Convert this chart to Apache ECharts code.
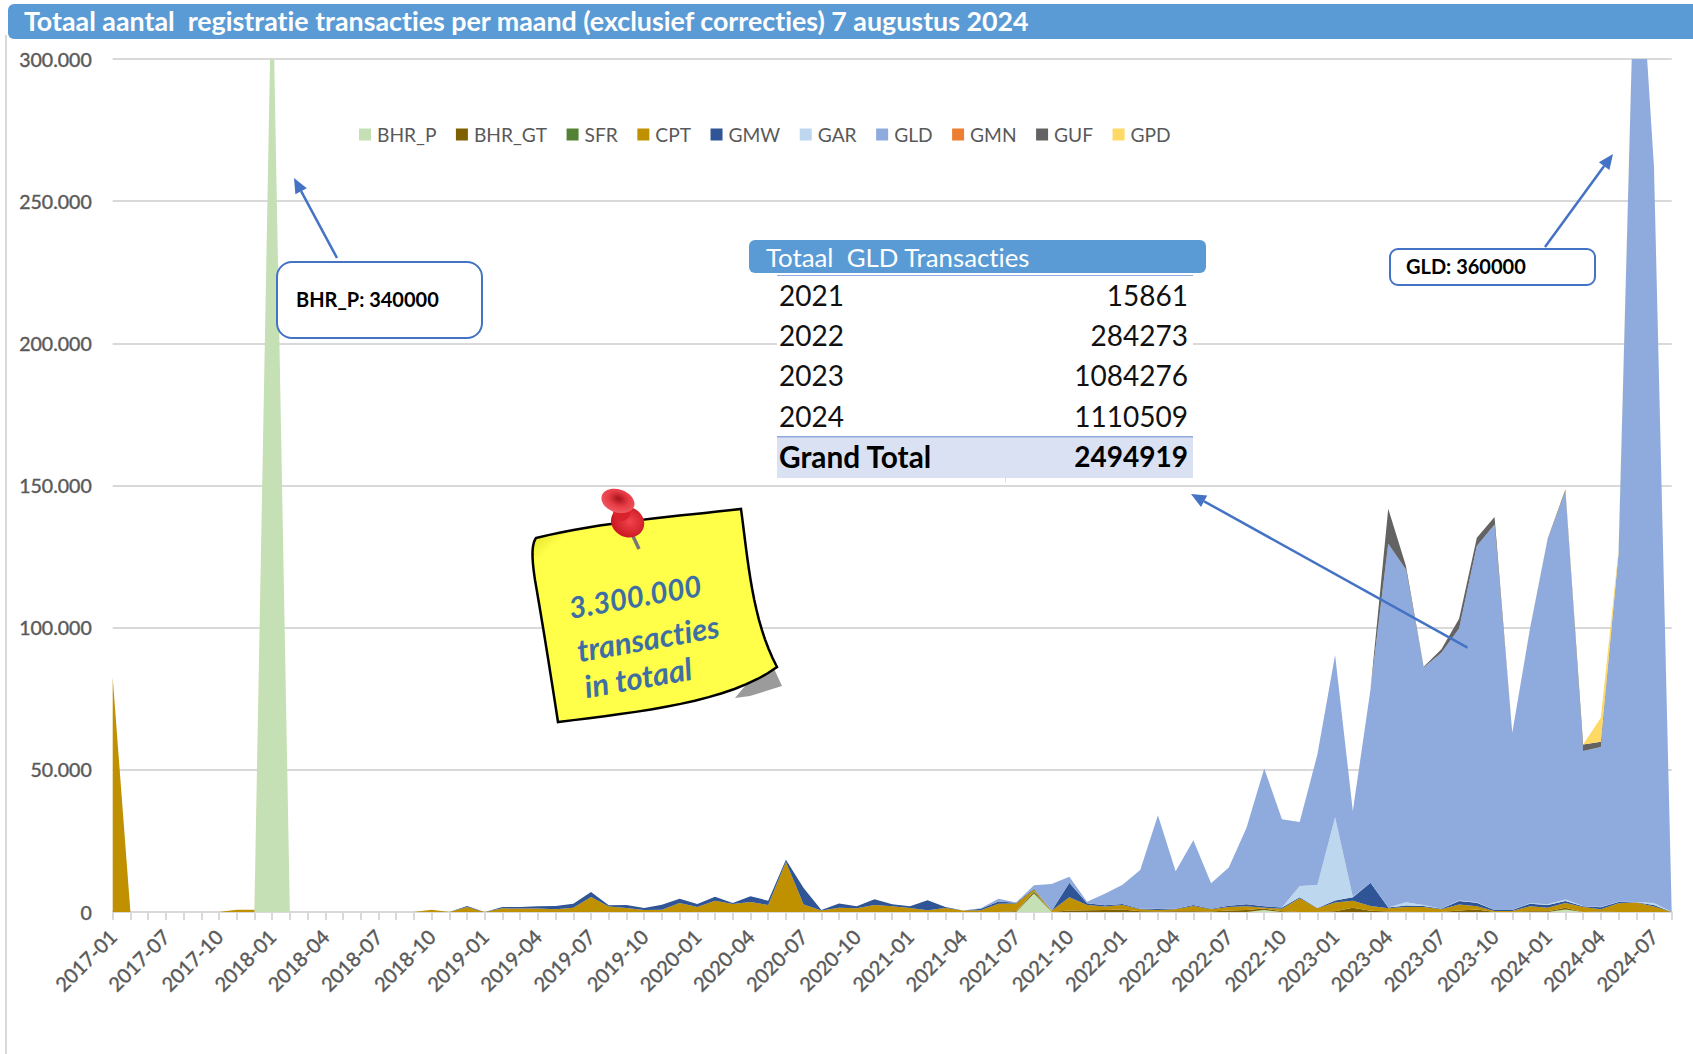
<!DOCTYPE html>
<html>
<head>
<meta charset="utf-8">
<title>Totaal aantal registratie transacties per maand</title>
<style>
  html, body { margin: 0; padding: 0; background: #fff; }
  #chart { width: 1693px; height: 1054px; }
  #chart text { font-variant-ligatures: none !important; }
</style>
<script src="https://cdn.jsdelivr.net/npm/echarts@6/dist/echarts.min.js"></script>
</head>
<body>
<div id="chart"></div>
<script>
const months = [
  '2017-01','2017-03','2017-05','2017-07','2017-08','2017-09','2017-10','2017-11','2017-12','2018-01',
  '2018-02','2018-03','2018-04','2018-05','2018-06','2018-07','2018-08','2018-09','2018-10','2018-11',
  '2018-12','2019-01','2019-02','2019-03','2019-04','2019-05','2019-06','2019-07','2019-08','2019-09',
  '2019-10','2019-11','2019-12','2020-01','2020-02','2020-03','2020-04','2020-05','2020-06','2020-07',
  '2020-08','2020-09','2020-10','2020-11','2020-12','2021-01','2021-02','2021-03','2021-04','2021-05',
  '2021-06','2021-07','2021-08','2021-09','2021-10','2021-11','2021-12','2022-01','2022-02','2022-03',
  '2022-04','2022-05','2022-06','2022-07','2022-08','2022-09','2022-10','2022-11','2022-12','2023-01',
  '2023-02','2023-03','2023-04','2023-05','2023-06','2023-07','2023-08','2023-09','2023-10','2023-11',
  '2023-12','2024-01','2024-02','2024-03','2024-04','2024-05','2024-06','2024-07','2024-08'
]

// waarden per reeks (gestapeld)
const bhrP = [
  0,0,0,0,0,0,0,0,0,340000,
  0,0,0,0,0,0,0,0,0,0,
  0,0,0,0,0,0,0,0,0,0,
  0,0,0,0,0,0,0,0,0,0,
  0,0,0,0,0,0,0,0,0,0,
  0,0,6500,0,0,0,0,0,0,0,
  0,0,0,0,0,700,0,0,0,0,
  0,0,0,0,0,0,0,0,0,0,
  0,0,900,0,0,0,0,0,0
]
const bhrGt = [
  0,0,0,0,0,0,0,0,0,0,
  0,0,0,0,0,0,0,0,0,0,
  0,0,0,0,0,0,0,0,0,0,
  0,0,0,0,0,0,0,0,0,0,
  0,0,0,0,0,0,0,0,0,0,
  0,300,500,0,500,600,700,900,300,200,
  300,300,200,500,700,500,300,0,0,300,
  1500,400,200,100,0,0,500,900,0,0,
  300,300,600,0,200,0,0,0,0
]
const sfr = [
  0,0,0,0,0,0,0,0,0,0,
  0,0,0,0,0,0,0,0,0,0,
  0,0,0,0,0,0,0,0,0,0,
  0,0,0,0,0,0,0,0,0,0,
  0,0,0,0,0,0,0,0,0,0,
  0,0,500,0,0,0,0,0,0,0,
  0,0,0,0,0,0,0,0,0,0,
  0,0,0,0,0,0,0,0,0,0,
  0,0,0,0,0,0,0,0,0
]
const cpt = [
  82500,0,0,0,0,0,0,800,800,0,
  0,0,0,0,0,0,0,0,800,0,
  1750,0,1300,1200,1200,950,1500,5300,1900,1400,
  700,800,3200,1800,4000,2800,3500,2500,17600,2600,
  500,1500,1300,2500,2000,1400,600,1400,500,600,
  2900,2700,500,450,4650,1850,1200,1550,650,500,
  650,1800,750,1250,1300,300,850,4800,1300,3000,
  2500,1700,1100,1650,1750,950,2100,1100,350,350,
  1700,1200,1650,1750,750,3050,3300,1900,0
]
const gmw = [
  0,0,0,0,0,0,0,0,0,0,
  0,0,0,0,0,0,0,0,0,0,
  350,0,470,560,800,1150,1400,1750,450,1050,
  700,1750,1500,1000,1400,350,2000,1500,800,5850,
  200,1500,700,2000,700,600,3500,350,0,580,
  820,230,300,0,5150,590,440,340,230,470,
  230,360,230,440,700,500,470,350,100,720,
  1150,8200,300,580,340,230,1290,1280,350,350,
  930,960,710,240,700,470,120,580,0
]
const gar = [
  0,0,0,0,0,0,0,0,0,0,
  0,0,0,0,0,0,0,0,0,0,
  0,0,0,0,0,0,0,0,0,0,
  0,0,0,0,0,0,0,0,0,0,
  0,0,0,0,0,0,0,0,0,0,
  0,0,0,0,0,0,0,0,0,0,
  0,0,0,0,0,0,0,4000,8100,29300,
  250,0,0,1060,360,0,130,120,0,0,
  120,240,580,100,120,110,120,700,0
]
const gld = [
  0,0,0,0,0,0,0,0,0,0,
  0,0,0,0,0,0,0,0,0,0,
  0,0,0,0,0,0,0,0,0,0,
  0,0,0,0,0,0,0,0,0,0,
  0,0,0,0,0,0,0,0,0,100,
  940,120,1100,9380,2100,550,4110,6800,13600,32830,
  13130,22740,8910,13500,26950,48500,30960,22500,45900,57100,
  30100,68000,127900,117100,83540,90030,95700,125300,135600,62300,
  96350,128300,143550,54500,56240,122370,356480,258840,0
]
const gmn = [
  0,0,0,0,0,0,0,0,0,0,
  0,0,0,0,0,0,0,0,0,0,
  0,0,0,0,0,0,0,0,0,0,
  0,0,0,0,0,0,0,0,0,0,
  0,0,0,0,0,0,0,0,0,0,
  0,0,0,0,0,0,0,0,0,0,
  0,0,0,0,0,0,0,0,0,0,
  0,0,0,0,0,0,0,0,0,0,
  0,0,0,0,0,0,0,0,0
]
const guf = [
  0,0,0,0,0,0,0,0,0,0,
  0,0,0,0,0,0,0,0,0,0,
  0,0,0,0,0,0,0,0,0,0,
  0,0,0,0,0,0,0,0,0,0,
  0,0,0,0,0,0,0,0,0,0,
  0,0,0,0,0,0,0,0,0,0,
  0,0,0,0,0,0,0,0,0,0,
  0,0,12300,1200,300,1200,3400,2900,2600,0,
  200,300,600,2300,1900,300,0,0,0
]
const gpd = [
  0,0,0,0,0,0,0,0,0,0,
  0,0,0,0,0,0,0,0,0,0,
  0,0,0,0,0,0,0,0,0,0,
  0,0,0,0,0,0,0,0,0,0,
  0,0,0,0,0,0,0,0,0,0,
  0,0,0,0,0,0,0,0,0,0,
  0,0,0,0,0,0,0,0,0,0,
  0,0,0,0,0,0,0,0,0,0,
  0,0,200,50,8400,1000,0,0,0
]

const seriesNames = ['BHR_P', 'BHR_GT', 'SFR', 'CPT', 'GMW', 'GAR', 'GLD', 'GMN', 'GUF', 'GPD']
const seriesValues = [bhrP, bhrGt, sfr, cpt, gmw, gar, gld, gmn, guf, gpd]
const seriesColors = ['#c5e0b4', '#7f6000', '#548235', '#bf9000', '#2f5597', '#bdd7ee', '#8faadc', '#ed7d31', '#636363', '#ffd966']

const gldYears = ['2021', '2022', '2023', '2024']
const gldTotals = ['15861', '284273', '1084276', '1110509']
const gldGrandTotal = '2494919'

const titleText = 'Totaal aantal  registratie transacties per maand (exclusief correcties) 7 augustus 2024'
const noteLines = ['3.300.000', 'transacties', 'in totaal']

const FONT = 'Lato, "Noto Sans", sans-serif'
const BLUE = '#5b9bd5'
const ARROW = '#4472c4'
const Z = 100
const deg = (d) => d * Math.PI / 180

// tekst op een vaste plek
const label = (text, x, y, size, color, extra = {}) => ({
  type: 'text',
  z: Z + 2,
  x,
  y,
  rotation: extra.rotation || 0,
  style: {
    text,
    fill: color,
    font: `${extra.style || 'normal'} ${extra.weight || 'normal'} ${size}px ${FONT}`,
    textAlign: extra.align || 'left',
    textVerticalAlign: 'middle'
  }
})

// pijl met driehoekige punt
const arrow = (x1, y1, x2, y2) => {
  const a = Math.atan2(y2 - y1, x2 - x1)
  const len = 15
  const w = 6.5
  const bx = x2 - Math.cos(a) * len
  const by = y2 - Math.sin(a) * len
  return [
    { type: 'line', z: Z + 1, shape: { x1, y1, x2: bx, y2: by }, style: { stroke: ARROW, lineWidth: 2.5 } },
    {
      type: 'polygon',
      z: Z + 1,
      shape: { points: [[x2, y2], [bx - Math.sin(a) * w, by + Math.cos(a) * w], [bx + Math.sin(a) * w, by - Math.cos(a) * w]] },
      style: { fill: ARROW }
    }
  ]
}

const callout = (x, y, w, h, r, text, tx) => [
  { type: 'rect', z: Z + 1, shape: { x, y, width: w, height: h, r }, style: { fill: '#fff', stroke: ARROW, lineWidth: 2 } },
  label(text, tx, y + h / 2 - 1, 20, '#000', { weight: 'bold' })
]

// punten langs een bezierkromme, voor de rand van het briefje
const bezier = (p0, p1, p2, p3) => {
  const pts = []
  for (let k = 0; k <= 16; k++) {
    const t = k / 16
    const u = 1 - t
    pts.push([
      u * u * u * p0[0] + 3 * u * u * t * p1[0] + 3 * u * t * t * p2[0] + t * t * t * p3[0],
      u * u * u * p0[1] + 3 * u * u * t * p1[1] + 3 * u * t * t * p2[1] + t * t * t * p3[1]
    ])
  }
  return pts
}

const titleBar = [
  { type: 'rect', z: Z, shape: { x: 5, y: 35, width: 2, height: 1019 }, style: { fill: '#d9d9d9' } },
  { type: 'rect', z: Z, shape: { x: 8, y: 4, width: 1700, height: 35, r: 6 }, style: { fill: BLUE } },
  label(titleText, 24, 21, 26.8, '#fff', { weight: 'bold' })
]

const tableRows = gldYears.flatMap((year, i) => [
  label(year, 779, 295 + i * 40.2, 28, '#111'),
  label(gldTotals[i], 1188, 295 + i * 40.2, 28, '#111', { align: 'right' })
])

const table = [
  { type: 'rect', z: Z, shape: { x: 777, y: 273, width: 416, height: 164 }, style: { fill: '#fff' } },
  { type: 'rect', z: Z + 1, shape: { x: 749, y: 240, width: 457, height: 33, r: 6 }, style: { fill: BLUE } },
  label('Totaal  GLD Transacties', 766, 257, 25.8, '#fff'),
  { type: 'rect', z: Z + 1, shape: { x: 777, y: 275, width: 416, height: 1 }, style: { fill: '#8faadc' } },
  ...tableRows,
  { type: 'rect', z: Z, shape: { x: 777, y: 437, width: 416, height: 41 }, style: { fill: '#d9e1f2' } },
  { type: 'rect', z: Z + 1, shape: { x: 777, y: 436, width: 416, height: 1.5 }, style: { fill: '#8faadc' } },
  label('Grand Total', 779, 456, 29.8, '#000', { weight: 'bold' }),
  label(gldGrandTotal, 1188, 456, 28, '#000', { weight: 'bold', align: 'right' }),
  { type: 'rect', z: Z, shape: { x: 1005, y: 478, width: 1, height: 4 }, style: { fill: '#d9d9d9' } }
]

const noteOutline = [
  ...bezier([536, 538], [600, 522], [680, 516], [741, 509]),
  ...bezier([741, 509], [748, 560], [752, 620], [777, 667]),
  ...bezier([777, 667], [730, 702], [640, 712], [558, 722]),
  ...bezier([558, 722], [550, 670], [542, 620], [535, 580]),
  ...bezier([535, 580], [532, 560], [531, 545], [536, 538])
]

const stickyNote = [
  {
    type: 'polygon',
    z: Z,
    shape: { points: [[770, 660], [782, 686], [750, 696], [735, 698], [750, 680]] },
    style: { fill: '#9b9b9b' }
  },
  {
    type: 'polygon',
    z: Z + 1,
    shape: { points: noteOutline },
    style: {
      fill: {
        type: 'linear', x: 0, y: 0, x2: 1, y2: 1,
        colorStops: [
          { offset: 0, color: '#c9c90e' },
          { offset: 0.13, color: '#ffff4a' },
          { offset: 1, color: '#ffff4a' }
        ]
      },
      stroke: '#000',
      lineWidth: 2.5
    }
  },
  ...noteLines.map((line, i) => label(line, [635, 648, 638][i], [596, 638, 677][i], [29.5, 31, 31][i], '#3e6fa3', {
    weight: 'bold', style: 'italic', align: 'center', rotation: deg(10)
  })),
  { type: 'line', z: Z + 3, shape: { x1: 632, y1: 534, x2: 639, y2: 549 }, style: { stroke: '#777', lineWidth: 3.5 } },
  {
    type: 'ellipse', z: Z + 4,
    originX: 628, originY: 522, rotation: deg(-25),
    shape: { cx: 628, cy: 522, rx: 17, ry: 15 },
    style: { fill: { type: 'radial', x: 0.55, y: 0.45, r: 0.6, colorStops: [{ offset: 0, color: '#f0444c' }, { offset: 1, color: '#c8141e' }] } }
  },
  { type: 'ellipse', z: Z + 4, shape: { cx: 622, cy: 510, rx: 9, ry: 11 }, style: { fill: '#d8232d' } },
  {
    type: 'ellipse', z: Z + 5,
    originX: 618, originY: 501, rotation: deg(-18),
    shape: { cx: 618, cy: 501, rx: 17, ry: 11.5 },
    style: { fill: { type: 'radial', x: 0.5, y: 0.4, r: 0.6, colorStops: [{ offset: 0, color: '#a5121c' }, { offset: 0.5, color: '#e63a44' }, { offset: 1, color: '#ee5a60' }] } }
  }
]

const chart = echarts.init(document.getElementById('chart'), null, { renderer: 'svg' })

chart.setOption({
  animation: false,
  color: seriesColors,
  textStyle: { fontFamily: FONT },
  grid: { left: 112.7, right: 21.3, top: 59, bottom: 142, containLabel: false },
  legend: {
    data: seriesNames,
    left: 354,
    top: 120,
    icon: 'rect',
    itemWidth: 12,
    itemHeight: 12,
    itemGap: 19.5,
    textStyle: { color: '#595959', fontSize: 19.2, fontFamily: FONT, padding: [0, 0, 0, 1] }
  },
  xAxis: {
    type: 'category',
    data: months,
    boundaryGap: false,
    axisLine: { lineStyle: { color: '#d9d9d9', width: 2 } },
    axisTick: { show: true, interval: 0, length: 8, lineStyle: { color: '#d9d9d9', width: 2 } },
    axisLabel: {
      interval: 2,
      rotate: 45,
      margin: 21,
      color: '#595959',
      fontSize: 20,
      fontFamily: FONT,
      textBorderColor: '#595959',
      textBorderWidth: 0.4
    }
  },
  yAxis: {
    type: 'value',
    min: 0,
    max: 300000,
    interval: 50000,
    axisLine: { show: false },
    axisTick: { show: false },
    splitLine: { lineStyle: { color: '#d9d9d9', width: 2 } },
    axisLabel: {
      margin: 21,
      color: '#595959',
      fontSize: 19.5,
      fontFamily: FONT,
      padding: [0, 0, 4, 0],
      textBorderColor: '#595959',
      textBorderWidth: 0.4,
      formatter: (v) => String(v).replace(/\B(?=(\d{3})+$)/g, '.')
    }
  },
  series: seriesNames.map((name, i) => ({
    name,
    type: 'line',
    stack: 'totaal',
    data: seriesValues[i],
    showSymbol: false,
    symbol: 'none',
    lineStyle: { width: 0 },
    areaStyle: { opacity: 1 },
    itemStyle: { color: seriesColors[i] }
  })),
  graphic: [
    ...titleBar,
    ...table,
    ...stickyNote,
    ...callout(277, 262, 205, 76, 15, 'BHR_P: 340000', 296),
    ...arrow(337, 258, 294, 178),
    ...callout(1390, 249, 205, 36, 8, 'GLD: 360000', 1406),
    ...arrow(1545, 247, 1613, 154),
    ...arrow(1467.5, 647.7, 1191, 494)
  ]
})

window.addEventListener('resize', () => chart.resize())
</script>
</body>
</html>
